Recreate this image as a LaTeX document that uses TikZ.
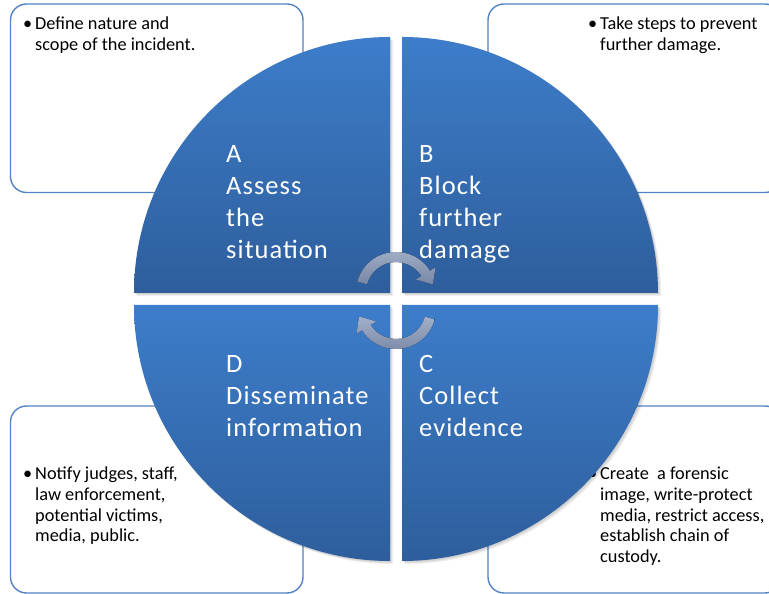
\documentclass[tikz,border=0pt]{standalone}
\usepackage{fontspec}
\setmainfont{Carlito}
\newfontfamily\labelfont[LetterSpace=4]{Carlito}
\definecolor{qtop}{HTML}{3D7DCA}
\definecolor{qbot}{HTML}{2E5E9C}
\definecolor{boxline}{HTML}{5284C4}
\definecolor{arrtop}{HTML}{B4C2DD}
\definecolor{arrbot}{HTML}{8595B6}
\begin{document}
\begin{tikzpicture}[x=1pt,y=1pt,
  boxframe/.style={draw=boxline, line width=1.4pt, rounded corners=16pt, fill=white},
  quad/.style={top color=qtop, bottom color=qbot, draw=none},
  qlabel/.style={text=white, font=\labelfont\fontsize{26.5}{32}\selectfont, align=left, anchor=base west, inner sep=0pt},
  note/.style={text=black, font=\fontsize{18.3}{20.6}\selectfont, align=left, anchor=base west, inner sep=0pt},
  cyc/.style={top color=arrtop, bottom color=arrbot, draw=none, fill opacity=0.9}]
\useasboundingbox (0,0) rectangle (769,594);
\clip (0,0) rectangle (769,594);
\fill[white] (0,0) rectangle (769,594);
% side boxes
\draw[boxframe] (10.5,590) rectangle (303,401.5);
\draw[boxframe] (488,590) rectangle (781,401.5);
\draw[boxframe] (10.5,188) rectangle (303,1);
\draw[boxframe] (488,188) rectangle (781,1);
% box texts (anchor = baseline of the last line)
\node[note] (nA) at (35,543.5) {\llap{•\hspace{3pt}}Define nature and\\scope of the incident.};
\node[note] (nB) at (600,543.5) {\llap{•\hspace{3pt}}Take steps to prevent\\further damage.};
\node[note] (nD) at (35,52.2) {\llap{•\hspace{3pt}}Notify judges, staff,\\law enforcement,\\potential victims,\\media, public.};
\node[note] (nC) at (600,31.6) {\llap{•\hspace{3pt}}Create\ \ a forensic\\image, write-protect\\media, restrict access,\\establish chain of\\custody.};
% soft shadow of the quadrants
\foreach \s in {1,2,3,4}{
  \fill[black, opacity=0.05, shift={(\s*0.8,-\s*0.8)}]
    (390,301) -- (134,301) arc[start angle=180,end angle=90,radius=256] -- cycle
    (402,301) -- (402,557) arc[start angle=90,end angle=0,radius=256] -- cycle
    (402,289) -- (658,289) arc[start angle=0,end angle=-90,radius=256] -- cycle
    (390,289) -- (390,33) arc[start angle=-90,end angle=-180,radius=256] -- cycle;
}
% quadrants
\path[quad] (390,301) -- (134,301) arc[start angle=180,end angle=90,radius=256] -- cycle;
\path[quad] (402,301) -- (402,557) arc[start angle=90,end angle=0,radius=256] -- cycle;
\path[quad] (402,289) -- (658,289) arc[start angle=0,end angle=-90,radius=256] -- cycle;
\path[quad] (390,289) -- (390,33) arc[start angle=-90,end angle=-180,radius=256] -- cycle;
% quadrant labels (anchor = baseline of the last line)
\node[qlabel] (labA) at (226,335) {A\\Assess\\the\\situation};
\node[qlabel] (labB) at (419,335) {B\\Block\\further\\damage};
\node[qlabel] (labD) at (226,157) {D\\Disseminate\\information};
\node[qlabel] (labC) at (419,157) {C\\Collect\\evidence};
% circular arrows
\begin{scope}[shift={(396,302)}]
\fill[cyc] (165:40) arc[start angle=165,end angle=32,radius=40] -- (32:46.5) -- (37,7.5) -- (32:23.5) -- (32:30) arc[start angle=32,end angle=165,radius=30] -- cycle;
\end{scope}
\begin{scope}[shift={(396,285)}]
\fill[cyc] (-15:40) arc[start angle=-15,end angle=-148,radius=40] -- (-148:46.5) -- (-37,-7.5) -- (-148:23.5) -- (-148:30) arc[start angle=-148,end angle=-15,radius=30] -- cycle;
\end{scope}
\end{tikzpicture}
\end{document}
